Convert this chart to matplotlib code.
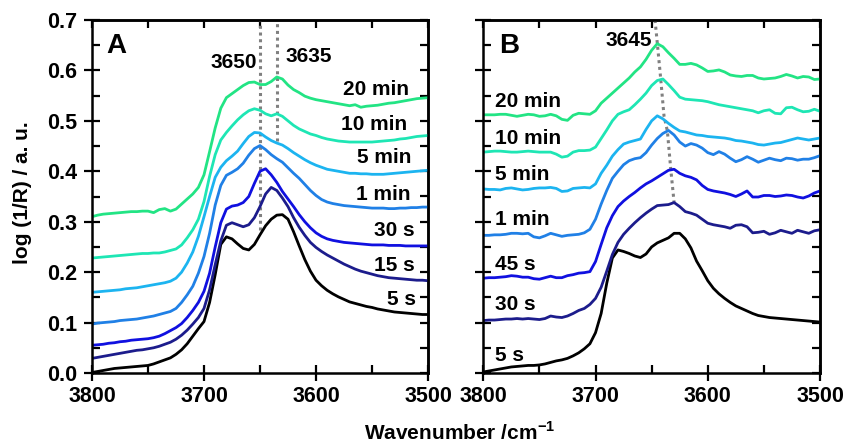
import numpy as np
import matplotlib.pyplot as plt
from matplotlib.ticker import MultipleLocator

plt.rcParams['font.family'] = ['Liberation Sans', 'DejaVu Sans']
plt.rcParams['font.weight'] = 'bold'
plt.rcParams['mathtext.fontset'] = 'custom'
plt.rcParams['mathtext.rm'] = 'Liberation Sans:bold'
plt.rcParams['mathtext.bf'] = 'Liberation Sans:bold'

# common wavenumber grid, 3800 -> 3500 cm-1 in 5 cm-1 steps
wn = np.arange(3800, 3499, -5)

# ---- panel A spectra ----
A_5s = [0.001, 0.003, 0.005, 0.007, 0.009, 0.010, 0.011, 0.012, 0.013, 0.014,
        0.015, 0.018, 0.022, 0.026, 0.030, 0.037, 0.046, 0.058, 0.073, 0.088,
        0.102, 0.140, 0.195, 0.255, 0.270, 0.266, 0.256, 0.247, 0.244, 0.255,
        0.274, 0.292, 0.305, 0.313, 0.314, 0.305, 0.280, 0.252, 0.225, 0.202,
        0.184, 0.173, 0.164, 0.157, 0.151, 0.146, 0.141, 0.138, 0.135, 0.132,
        0.130, 0.127, 0.125, 0.123, 0.121, 0.120, 0.119, 0.118, 0.117, 0.116,
        0.116]
A_15s = [0.029, 0.031, 0.033, 0.035, 0.037, 0.039, 0.041, 0.043, 0.045, 0.046,
         0.048, 0.050, 0.053, 0.057, 0.061, 0.067, 0.075, 0.085, 0.097, 0.110,
         0.128, 0.165, 0.215, 0.262, 0.293, 0.298, 0.294, 0.290, 0.294, 0.308,
         0.330, 0.355, 0.368, 0.362, 0.347, 0.330, 0.308, 0.289, 0.273, 0.259,
         0.249, 0.241, 0.234, 0.228, 0.222, 0.216, 0.211, 0.206, 0.202, 0.199,
         0.196, 0.193, 0.191, 0.189, 0.188, 0.187, 0.186, 0.185, 0.184, 0.184,
         0.183]
A_30s = [0.055, 0.056, 0.057, 0.059, 0.060, 0.062, 0.063, 0.065, 0.066, 0.067,
         0.068, 0.070, 0.073, 0.078, 0.084, 0.090, 0.098, 0.110, 0.124, 0.140,
         0.162, 0.198, 0.250, 0.298, 0.325, 0.331, 0.333, 0.338, 0.350, 0.376,
         0.400, 0.405, 0.393, 0.378, 0.360, 0.345, 0.330, 0.314, 0.300, 0.288,
         0.278, 0.271, 0.266, 0.263, 0.261, 0.259, 0.258, 0.257, 0.256, 0.255,
         0.254, 0.254, 0.254, 0.253, 0.253, 0.253, 0.252, 0.252, 0.252, 0.252,
         0.252]
A_1min = [0.097, 0.099, 0.100, 0.101, 0.102, 0.104, 0.105, 0.106, 0.107, 0.109,
          0.111, 0.113, 0.116, 0.119, 0.122, 0.128, 0.140, 0.155, 0.172, 0.198,
          0.231, 0.277, 0.333, 0.372, 0.392, 0.398, 0.405, 0.416, 0.432, 0.445,
          0.451, 0.443, 0.433, 0.425, 0.418, 0.407, 0.396, 0.386, 0.374, 0.362,
          0.352, 0.344, 0.339, 0.336, 0.334, 0.332, 0.331, 0.330, 0.329, 0.328,
          0.327, 0.327, 0.327, 0.326, 0.326, 0.327, 0.327, 0.328, 0.328, 0.329,
          0.329]
A_5min = [0.160, 0.161, 0.162, 0.163, 0.164, 0.165, 0.167, 0.168, 0.169, 0.171,
          0.173, 0.175, 0.177, 0.179, 0.182, 0.188, 0.200, 0.218, 0.240, 0.271,
          0.310, 0.350, 0.388, 0.408, 0.421, 0.430, 0.440, 0.455, 0.469, 0.477,
          0.476, 0.468, 0.461, 0.456, 0.452, 0.445, 0.437, 0.430, 0.423, 0.417,
          0.412, 0.408, 0.404, 0.402, 0.400, 0.398, 0.396, 0.396, 0.395, 0.395,
          0.394, 0.394, 0.394, 0.395, 0.396, 0.397, 0.398, 0.399, 0.400, 0.401,
          0.402]
A_10min = [0.228, 0.229, 0.230, 0.231, 0.232, 0.233, 0.234, 0.235, 0.236, 0.237,
           0.237, 0.238, 0.238, 0.240, 0.243, 0.246, 0.254, 0.268, 0.284, 0.305,
           0.340, 0.390, 0.433, 0.462, 0.477, 0.490, 0.502, 0.512, 0.520, 0.524,
           0.521, 0.514, 0.510, 0.514, 0.509, 0.500, 0.491, 0.484, 0.479, 0.474,
           0.471, 0.467, 0.464, 0.462, 0.460, 0.459, 0.458, 0.458, 0.458, 0.458,
           0.458, 0.459, 0.460, 0.461, 0.462, 0.464, 0.465, 0.467, 0.469, 0.470,
           0.471]
A_20min = [0.310, 0.313, 0.315, 0.316, 0.317, 0.318, 0.319, 0.320, 0.320, 0.321,
           0.321, 0.318, 0.324, 0.326, 0.321, 0.325, 0.335, 0.345, 0.355, 0.368,
           0.393, 0.439, 0.486, 0.525, 0.546, 0.554, 0.562, 0.570, 0.576, 0.577,
           0.572, 0.572, 0.578, 0.587, 0.583, 0.571, 0.562, 0.556, 0.549, 0.545,
           0.542, 0.540, 0.538, 0.536, 0.534, 0.532, 0.530, 0.532, 0.527, 0.529,
           0.530, 0.531, 0.533, 0.535, 0.536, 0.538, 0.540, 0.542, 0.544, 0.545,
           0.546]

# ---- panel B spectra ----
B_5s = [0.002, 0.004, 0.006, 0.008, 0.010, 0.012, 0.013, 0.014, 0.015, 0.015,
        0.016, 0.018, 0.021, 0.024, 0.026, 0.029, 0.034, 0.040, 0.048, 0.058,
        0.080, 0.118, 0.178, 0.228, 0.244, 0.241, 0.237, 0.232, 0.229, 0.236,
        0.250, 0.258, 0.263, 0.268, 0.277, 0.277, 0.266, 0.248, 0.222, 0.203,
        0.183, 0.168, 0.157, 0.148, 0.140, 0.133, 0.128, 0.123, 0.118, 0.114,
        0.112, 0.110, 0.109, 0.108, 0.107, 0.106, 0.105, 0.104, 0.103, 0.102,
        0.101]
B_30s = [0.104, 0.105, 0.105, 0.106, 0.107, 0.107, 0.108, 0.107, 0.108, 0.107,
         0.106, 0.108, 0.113, 0.111, 0.110, 0.113, 0.118, 0.124, 0.128, 0.136,
         0.148, 0.170, 0.202, 0.235, 0.259, 0.275, 0.287, 0.298, 0.308, 0.317,
         0.325, 0.332, 0.333, 0.334, 0.338, 0.330, 0.320, 0.317, 0.313, 0.305,
         0.297, 0.294, 0.292, 0.290, 0.287, 0.293, 0.294, 0.290, 0.278, 0.279,
         0.281, 0.275, 0.278, 0.283, 0.280, 0.277, 0.283, 0.280, 0.277, 0.282,
         0.284]
B_45s = [0.188, 0.189, 0.189, 0.190, 0.191, 0.193, 0.192, 0.190, 0.190, 0.187,
         0.186, 0.189, 0.192, 0.189, 0.189, 0.193, 0.195, 0.198, 0.199, 0.201,
         0.221, 0.255, 0.288, 0.312, 0.330, 0.341, 0.350, 0.358, 0.367, 0.375,
         0.381, 0.388, 0.395, 0.402, 0.404, 0.396, 0.391, 0.388, 0.383, 0.372,
         0.364, 0.361, 0.359, 0.357, 0.354, 0.350, 0.355, 0.361, 0.349, 0.349,
         0.352, 0.352, 0.350, 0.351, 0.353, 0.352, 0.349, 0.347, 0.351, 0.357,
         0.361]
B_1min = [0.273, 0.273, 0.274, 0.274, 0.275, 0.277, 0.277, 0.276, 0.277, 0.270,
          0.268, 0.272, 0.277, 0.274, 0.271, 0.273, 0.274, 0.275, 0.278, 0.285,
          0.305, 0.335, 0.362, 0.386, 0.400, 0.413, 0.421, 0.425, 0.427, 0.437,
          0.452, 0.465, 0.475, 0.481, 0.472, 0.458, 0.450, 0.455, 0.452, 0.446,
          0.437, 0.433, 0.439, 0.434, 0.426, 0.419, 0.423, 0.429, 0.424, 0.418,
          0.422, 0.426, 0.423, 0.421, 0.426, 0.425, 0.422, 0.424, 0.424, 0.427,
          0.431]
B_5min = [0.365, 0.364, 0.364, 0.363, 0.366, 0.367, 0.365, 0.363, 0.364, 0.366,
          0.367, 0.367, 0.368, 0.366, 0.360, 0.361, 0.366, 0.367, 0.368, 0.367,
          0.375, 0.396, 0.412, 0.430, 0.443, 0.454, 0.458, 0.461, 0.464, 0.483,
          0.500, 0.510, 0.504, 0.495, 0.487, 0.480, 0.478, 0.475, 0.472, 0.471,
          0.469, 0.468, 0.467, 0.466, 0.464, 0.461, 0.460, 0.458, 0.456, 0.453,
          0.452, 0.454, 0.456, 0.457, 0.460, 0.463, 0.466, 0.464, 0.462, 0.464,
          0.466]
B_10min = [0.438, 0.439, 0.440, 0.440, 0.439, 0.438, 0.438, 0.439, 0.440, 0.439,
           0.438, 0.438, 0.438, 0.434, 0.428, 0.430, 0.438, 0.441, 0.441, 0.442,
           0.448, 0.465, 0.482, 0.500, 0.513, 0.518, 0.522, 0.532, 0.543, 0.555,
           0.570, 0.580, 0.583, 0.572, 0.560, 0.547, 0.543, 0.542, 0.541, 0.540,
           0.538, 0.535, 0.532, 0.530, 0.528, 0.526, 0.524, 0.522, 0.520, 0.516,
           0.520, 0.522, 0.515, 0.514, 0.526, 0.527, 0.522, 0.518, 0.519, 0.523,
           0.519]
B_20min = [0.512, 0.512, 0.512, 0.513, 0.513, 0.511, 0.509, 0.511, 0.513, 0.512,
           0.509, 0.510, 0.513, 0.510, 0.503, 0.501, 0.511, 0.515, 0.514, 0.513,
           0.520, 0.535, 0.545, 0.555, 0.565, 0.575, 0.585, 0.597, 0.607, 0.622,
           0.640, 0.653, 0.647, 0.635, 0.624, 0.612, 0.612, 0.614, 0.611, 0.605,
           0.598, 0.599, 0.601, 0.597, 0.591, 0.589, 0.588, 0.590, 0.590, 0.585,
           0.583, 0.584, 0.585, 0.588, 0.592, 0.589, 0.585, 0.588, 0.587, 0.582,
           0.583]

c_black, c_navy, c_blue = '#000000', '#1c1c8c', '#1010e0'
c_mid, c_sky, c_aqua, c_green = '#2080e6', '#1cb4f0', '#1ee6b4', '#22e484'

A_series = [A_5s, A_15s, A_30s, A_1min, A_5min, A_10min, A_20min]
A_names = ['5 s', '15 s', '30 s', '1 min', '5 min', '10 min', '20 min']
A_label_x = [3511, 3512, 3512, 3516, 3515, 3519, 3517]
A_label_y = [0.145, 0.214, 0.282, 0.353, 0.427, 0.492, 0.563]

B_series = [B_5s, B_30s, B_45s, B_1min, B_5min, B_10min, B_20min]
B_names = ['5 s', '30 s', '45 s', '1 min', '5 min', '10 min', '20 min']
B_label_x = 3790
B_label_y = [0.034, 0.135, 0.216, 0.304, 0.393, 0.466, 0.538]

colors = [c_black, c_navy, c_blue, c_mid, c_sky, c_aqua, c_green]

# dotted guide lines marking the OH band positions
A_guides = [(3650, 0.284), (3635, 0.460)]
B_guide_x = [3647, 3645, 3642, 3639, 3636, 3633, 3630]
B_guide_y = [0.700, 0.655, 0.585, 0.510, 0.480, 0.405, 0.338]

fs = 15
tick_fs = 15.5
fig = plt.figure(figsize=(8.47, 4.45), dpi=100)
axA = fig.add_axes([92 / 847, 72 / 445, 336 / 847, 353 / 445])
axB = fig.add_axes([483.3 / 847, 72 / 445, 336.7 / 847, 353 / 445])


def style_axis(ax, show_ylabels):
    ax.set_xlim(3800, 3500)
    ax.set_ylim(0, 0.7)
    ax.xaxis.set_major_locator(MultipleLocator(100))
    ax.xaxis.set_minor_locator(MultipleLocator(50))
    ax.yaxis.set_major_locator(MultipleLocator(0.1))
    ax.yaxis.set_minor_locator(MultipleLocator(0.05))
    # bottom/left: major ticks cross the spine, minor ones point inward
    ax.tick_params(which='major', direction='inout', length=11, width=1.6,
                   labelsize=tick_fs)
    ax.tick_params(which='minor', direction='in', length=5.5, width=1.6)
    ax.tick_params(axis='x', pad=4)
    ax.tick_params(axis='y', pad=5, labelleft=show_ylabels)
    ax.yaxis.set_major_formatter(plt.FormatStrFormatter('%.1f'))
    for s in ax.spines.values():
        s.set_linewidth(1.8)
    # top/right: inward ticks only
    top = ax.secondary_xaxis('top')
    top.xaxis.set_major_locator(MultipleLocator(100))
    top.xaxis.set_minor_locator(MultipleLocator(50))
    top.tick_params(which='both', direction='in', width=1.6, labeltop=False)
    top.tick_params(which='major', length=5.5)
    top.tick_params(which='minor', length=5.5)
    top.spines['top'].set_linewidth(1.8)
    right = ax.secondary_yaxis('right')
    right.yaxis.set_major_locator(MultipleLocator(0.1))
    right.yaxis.set_minor_locator(MultipleLocator(0.05))
    right.tick_params(which='both', direction='in', width=1.6, labelright=False)
    right.tick_params(which='major', length=5.5)
    right.tick_params(which='minor', length=5.5)
    right.spines['right'].set_linewidth(1.8)


style_axis(axA, True)
style_axis(axB, False)

# panel A
for x0, y1 in A_guides:
    axA.plot([x0, x0], [y1, 0.7], color='#808080', lw=2.2, ls=(0, (1, 1.2)), zorder=1)
for ys, c in zip(A_series, colors):
    axA.plot(wn, ys, color=c, lw=2.0, zorder=2)
for name, x, y in zip(A_names, A_label_x, A_label_y):
    axA.text(x, y, name, ha='right', va='center', fontsize=fs, fontweight='bold')
axA.text(3787, 0.649, 'A', ha='left', va='center', fontsize=20, fontweight='bold')
axA.text(3653, 0.615, '3650', ha='right', va='center', fontsize=fs, fontweight='bold')
axA.text(3627, 0.627, '3635', ha='left', va='center', fontsize=fs, fontweight='bold')

# panel B
axB.plot(B_guide_x, B_guide_y, color='#808080', lw=2.2, ls=(0, (1, 1.2)), zorder=1)
for ys, c in zip(B_series, colors):
    axB.plot(wn, ys, color=c, lw=2.0, zorder=2)
for name, y in zip(B_names, B_label_y):
    axB.text(B_label_x, y, name, ha='left', va='center', fontsize=fs, fontweight='bold')
axB.text(3786, 0.649, 'B', ha='left', va='center', fontsize=20, fontweight='bold')
axB.text(3650, 0.66, '3645', ha='right', va='center', fontsize=fs, fontweight='bold')

fig.text(22 / 847, 1 - 193 / 445, 'log (1/R) / a. u.', rotation=90,
         ha='center', va='center', fontsize=fs, fontweight='bold')
fig.text(460 / 847, 1 - 433 / 445, r'Wavenumber /cm$^{\mathbf{-1}}$',
         ha='center', va='center', fontsize=fs, fontweight='bold')

fig.savefig('out.png', dpi=100)
